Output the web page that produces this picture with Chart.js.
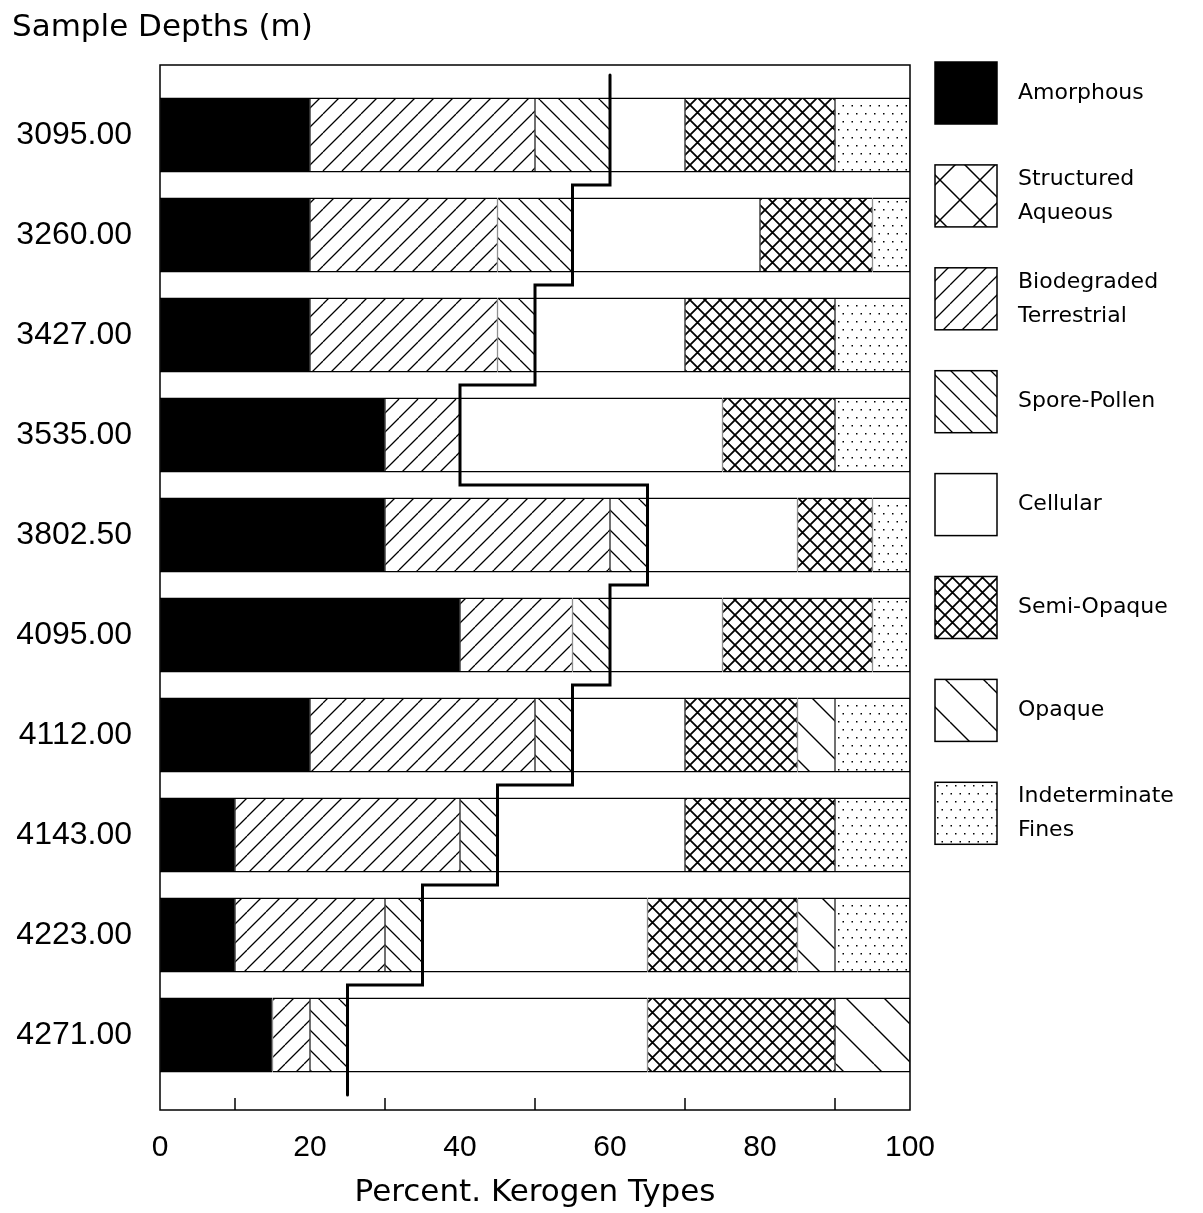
<!DOCTYPE html>
<html>
<head>
<meta charset="utf-8">
<title>Kerogen Types by Sample Depth</title>
<script src="https://cdn.jsdelivr.net/npm/chart.js@4.4.1/dist/chart.umd.min.js"></script>
<style>
  html, body { margin: 0; padding: 0; background: #fff; }
  #wrap { width: 1203px; height: 1213px; }
</style>
</head>
<body>
<div id="wrap"><canvas id="chart" width="1203" height="1213"></canvas></div>
<script>
// Sample depths (m), listed top to bottom
const depthLabels = ['3095.00', '3260.00', '3427.00', '3535.00', '3802.50',
                     '4095.00', '4112.00', '4143.00', '4223.00', '4271.00'];

// Kerogen type percentages for each sample
const amorphous              = [20, 20, 20, 30, 30, 40, 20, 10, 10, 15];
const structuredAqueous      = [ 0,  0,  0,  0,  0,  0,  0,  0,  0,  0];
const biodegradedTerrestrial = [30, 25, 25, 10, 30, 15, 30, 30, 20,  5];
const sporePollen            = [10, 10,  5,  0,  5,  5,  5,  5,  5,  5];
const cellular               = [10, 25, 20, 35, 20, 15, 15, 25, 30, 40];
const semiOpaque             = [20, 15, 20, 15, 10, 20, 15, 20, 20, 25];
const opaque                 = [ 0,  0,  0,  0,  0,  0,  5,  0,  5, 10];
const indeterminateFines     = [10,  5, 10, 10,  5,  5, 10, 10, 10,  0];

// Running total of amorphous + aqueous + terrestrial + spore-pollen (step line)
const boundaryTotals         = [60, 55, 50, 40, 65, 60, 55, 45, 35, 25];

// Axis ticks
const xTickValues     = [0, 20, 40, 60, 80, 100];
const xMinorTickMarks = [10, 30, 50, 70, 90];

// ---- fill patterns ----
function hatch(size, width, dirs) {
  const c = document.createElement('canvas');
  c.width = size; c.height = size;
  const g = c.getContext('2d');
  g.fillStyle = '#fff';
  g.fillRect(0, 0, size, size);
  g.strokeStyle = '#000';
  g.lineWidth = width;
  g.beginPath();
  for (const o of [-size, 0, size]) {
    if (dirs.includes('/'))  { g.moveTo(o, size); g.lineTo(o + size, 0); }
    if (dirs.includes('\\')) { g.moveTo(o, 0);    g.lineTo(o + size, size); }
  }
  g.stroke();
  return g.createPattern(c, 'repeat');
}
function stipple(w, h) {
  const c = document.createElement('canvas');
  c.width = w; c.height = h;
  const g = c.getContext('2d');
  g.fillStyle = '#fff';
  g.fillRect(0, 0, w, h);
  g.fillStyle = '#000';
  g.fillRect(1, 1, 1.5, 1.5);
  g.fillRect(1 + w / 2, 1 + h / 2, 1.5, 1.5);
  return g.createPattern(c, 'repeat');
}

const fills = {
  amorphous: '#000',
  structuredAqueous: hatch(40, 1.5, '/\\'),
  biodegradedTerrestrial: hatch(19, 1.3, '/'),
  sporePollen: hatch(20, 1.3, '\\'),
  cellular: '#fff',
  semiOpaque: hatch(15, 1.8, '/\\'),
  opaque: hatch(38, 1.4, '\\'),
  indeterminateFines: stipple(9, 16)
};

const series = [
  ['Amorphous', amorphous, fills.amorphous],
  ['Structured Aqueous', structuredAqueous, fills.structuredAqueous],
  ['Biodegraded Terrestrial', biodegradedTerrestrial, fills.biodegradedTerrestrial],
  ['Spore-Pollen', sporePollen, fills.sporePollen],
  ['Cellular', cellular, fills.cellular],
  ['Semi-Opaque', semiOpaque, fills.semiOpaque],
  ['Opaque', opaque, fills.opaque],
  ['Indeterminate Fines', indeterminateFines, fills.indeterminateFines]
];

const barDatasets = series.map(([label, values, fill]) => ({
  type: 'bar',
  label,
  data: values.map((v, i) => ({ x: v, y: i })),
  backgroundColor: fill,
  borderColor: '#000',
  borderWidth: { top: 1.5, bottom: 1.5, left: 0.75, right: 0.75 },
  borderSkipped: false,
  categoryPercentage: 1,
  barPercentage: 0.75,
  stack: 'kerogen',
  order: 1
}));

// Step line: vertical run through each sample, horizontal jog in the gap between samples
const last = boundaryTotals.length - 1;
const stepPoints = [];
boundaryTotals.forEach((v, i) => {
  stepPoints.push({ x: v, y: i === 0 ? i - 0.6 : i - 0.5 });
  stepPoints.push({ x: v, y: i === last ? i + 0.6 : i + 0.5 });
});

const stepDataset = {
  type: 'line',
  label: 'boundary',
  data: stepPoints,
  borderColor: '#000',
  borderWidth: 3,
  borderCapStyle: 'round',
  borderJoinStyle: 'miter',
  pointRadius: 0,
  fill: false,
  tension: 0,
  indexAxis: 'y',
  order: 0,
  clip: false
};

// ---- plugins ----
const whiteBackground = {
  id: 'whiteBackground',
  beforeDraw(chart) {
    const { ctx, width, height } = chart;
    ctx.save();
    ctx.fillStyle = '#fff';
    ctx.fillRect(0, 0, width, height);
    ctx.restore();
  }
};

const frameAndTicks = {
  id: 'frameAndTicks',
  afterDatasetsDraw(chart) {
    const { ctx, chartArea: a, scales: { x } } = chart;
    ctx.save();
    ctx.strokeStyle = '#000';
    ctx.lineWidth = 1.5;
    ctx.strokeRect(a.left, a.top, a.right - a.left, a.bottom - a.top);
    ctx.beginPath();
    for (const v of xMinorTickMarks) {
      const px = x.getPixelForValue(v);
      ctx.moveTo(px, a.bottom);
      ctx.lineTo(px, a.bottom - 12);
    }
    ctx.stroke();
    ctx.restore();
  }
};

const sideLegend = {
  id: 'sideLegend',
  afterDraw(chart) {
    const { ctx, chartArea: a } = chart;
    const items = chart.data.datasets.filter(d => d.type === 'bar');
    const box = 62, step = 102.9, x0 = a.right + 25, y0 = a.top - 3;
    ctx.save();
    ctx.font = '22px "DejaVu Sans"';
    ctx.textBaseline = 'middle';
    ctx.textAlign = 'left';
    items.forEach((d, i) => {
      const top = y0 + i * step;
      ctx.fillStyle = d.backgroundColor;
      ctx.fillRect(x0, top, box, box);
      ctx.lineWidth = 1.5;
      ctx.strokeStyle = '#000';
      ctx.strokeRect(x0, top, box, box);
      const lines = d.label.split(' ');
      ctx.fillStyle = '#000';
      lines.forEach((t, j) => {
        ctx.fillText(t, x0 + box + 21, top + box / 2 + (j - (lines.length - 1) / 2) * 34);
      });
    });
    ctx.restore();
  }
};

Chart.defaults.color = '#000';

new Chart(document.getElementById('chart'), {
  type: 'bar',
  data: { datasets: [stepDataset, ...barDatasets] },
  options: {
    responsive: false,
    animation: false,
    indexAxis: 'y',
    layout: { padding: { left: 12, right: 293, top: 0, bottom: 0 } },
    plugins: {
      legend: { display: false },
      tooltip: { enabled: false },
      title: {
        display: true,
        text: 'Sample Depths (m)',
        align: 'start',
        color: '#000',
        font: { family: '"DejaVu Sans"', size: 31, weight: 'normal' },
        padding: { top: 9.4, bottom: 18.4 }
      }
    },
    scales: {
      x: {
        type: 'linear',
        position: 'bottom',
        min: 0,
        max: 100,
        stacked: true,
        grid: { display: false, drawTicks: false },
        border: { display: false },
        afterBuildTicks: s => { s.ticks = xTickValues.map(v => ({ value: v })); },
        afterFit: s => { s.height = 103; },
        ticks: {
          color: '#000',
          font: { family: '"Liberation Sans"', size: 30 },
          padding: 20,
          maxRotation: 0,
          autoSkip: false
        },
        title: {
          display: true,
          text: 'Percent. Kerogen Types',
          color: '#000',
          font: { family: '"DejaVu Sans"', size: 31, weight: 'normal' },
          padding: { top: 0, bottom: 1 }
        }
      },
      y: {
        type: 'linear',
        min: -0.7,
        max: 9.75,
        reverse: true,
        offset: false,
        stacked: true,
        grid: { display: false, drawTicks: false, offset: false },
        border: { display: false },
        afterBuildTicks: s => { s.ticks = depthLabels.map((_, i) => ({ value: i })); },
        afterFit: s => { s.width = 148; },
        ticks: {
          color: '#000',
          font: { family: '"Liberation Sans"', size: 32 },
          padding: 28,
          autoSkip: false,
          callback: v => depthLabels[v]
        }
      }
    }
  },
  plugins: [whiteBackground, frameAndTicks, sideLegend]
});
</script>
</body>
</html>
